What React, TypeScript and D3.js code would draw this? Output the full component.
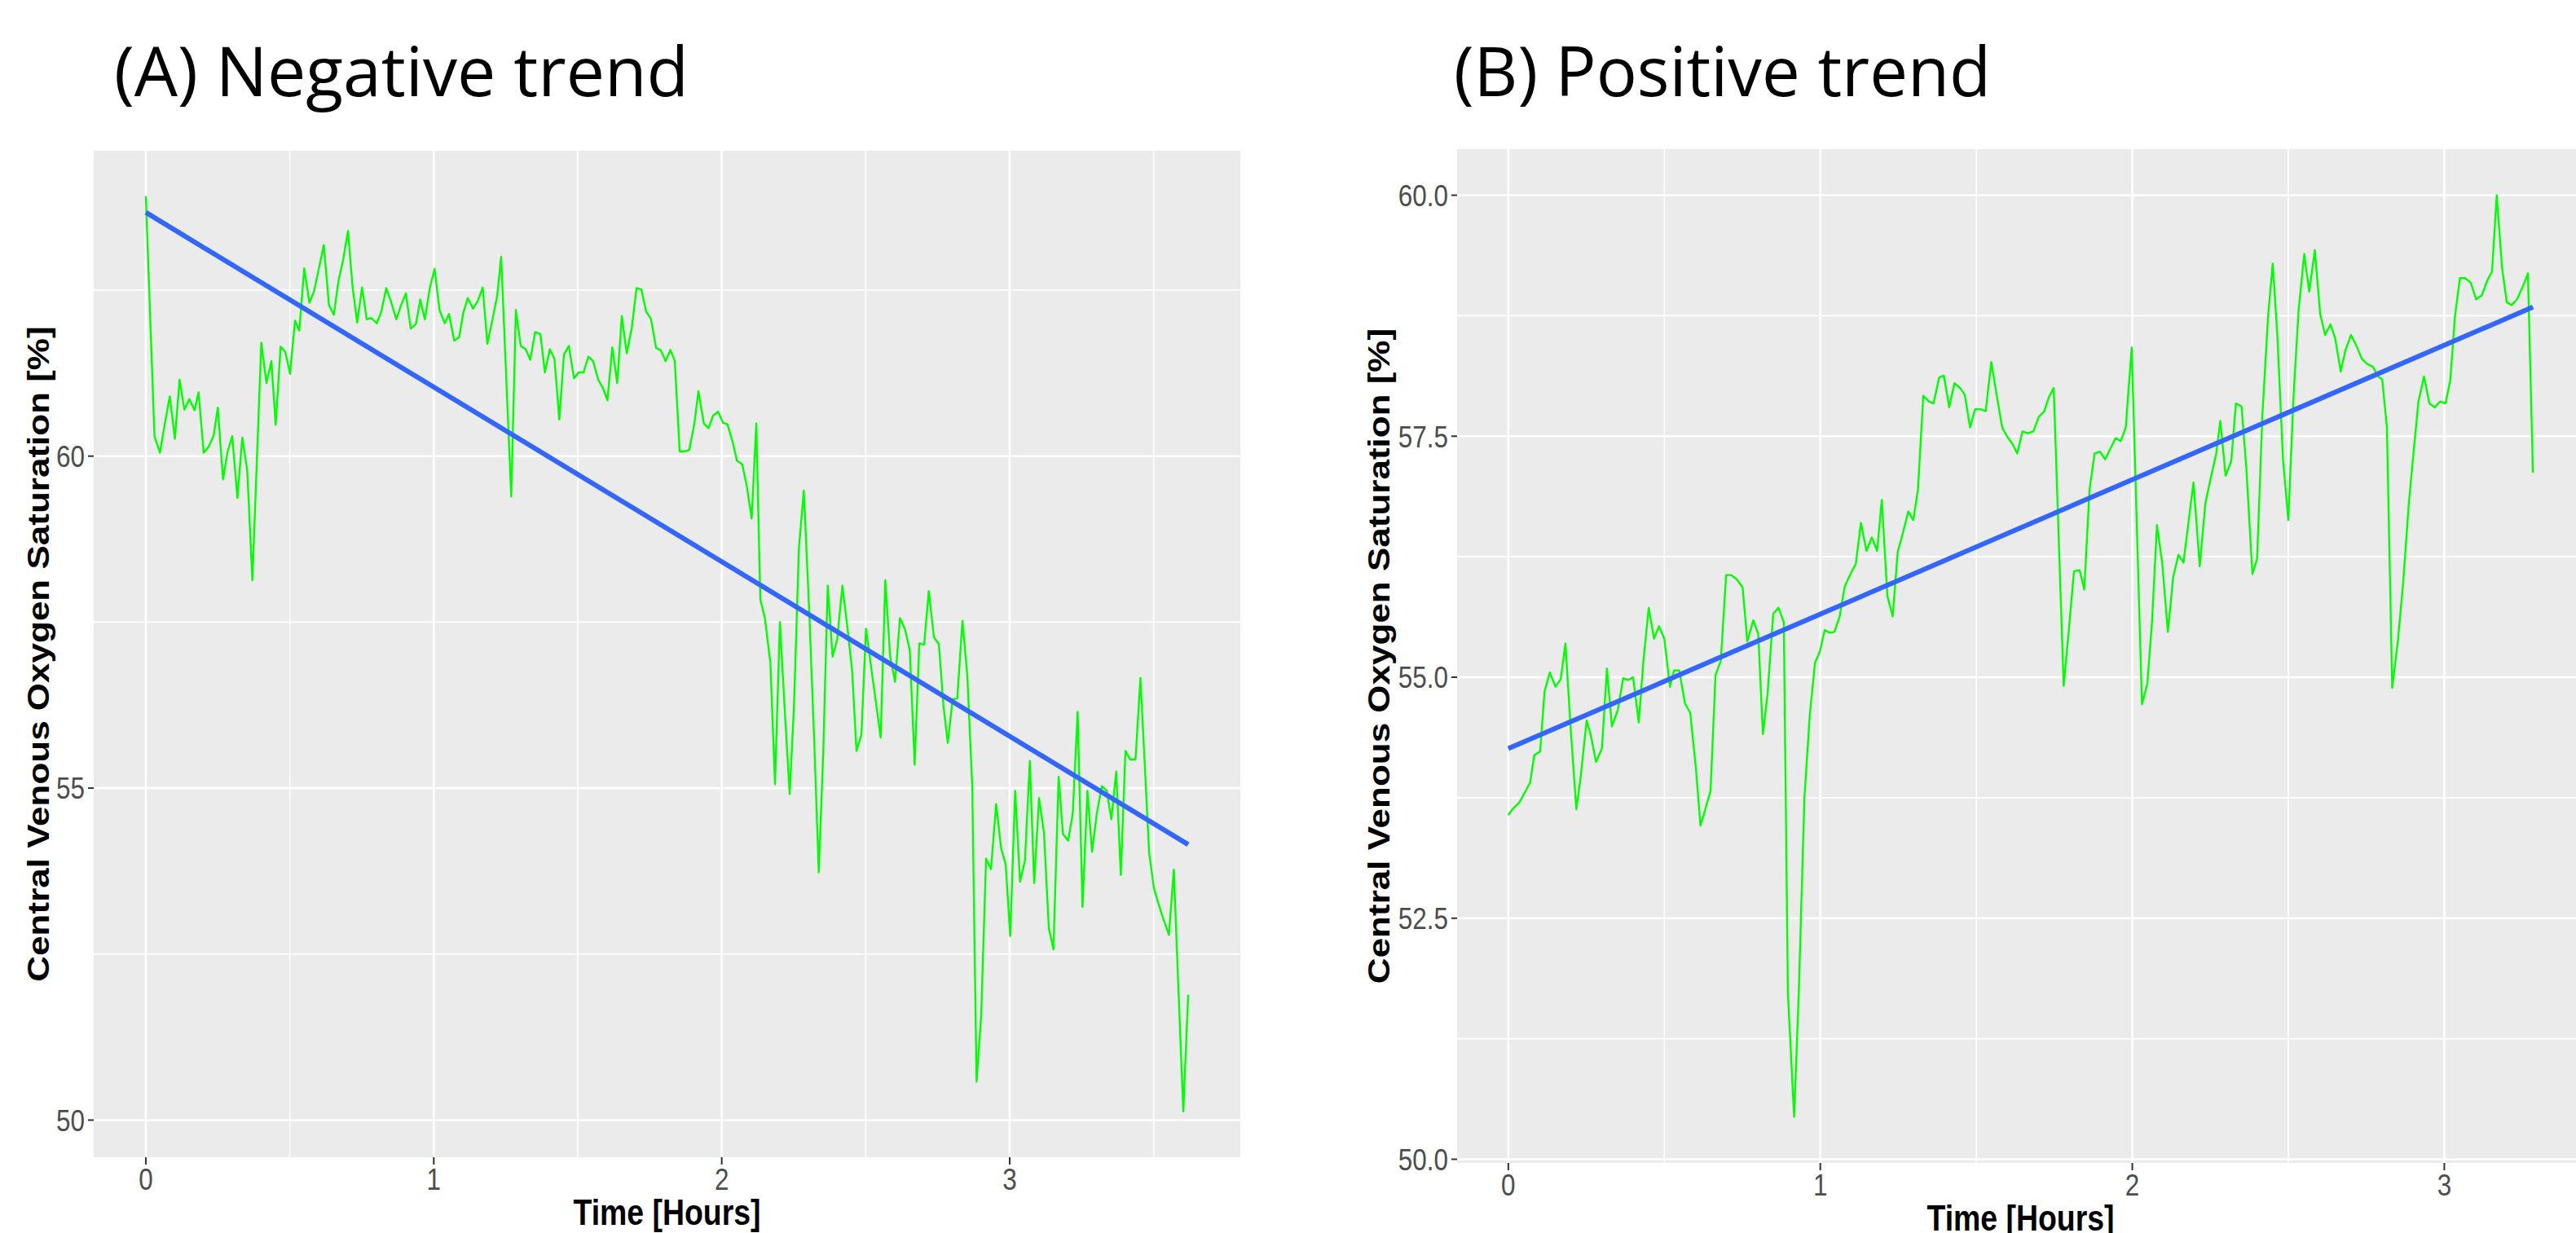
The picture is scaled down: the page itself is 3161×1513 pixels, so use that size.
import React from "react";
import * as d3 from "d3";

// (A) negative trend: time in hours, ScvO2 in %
const timeA = [
  0.000, 0.030, 0.049, 0.066, 0.083, 0.101, 0.117, 0.134, 0.151, 0.169, 0.183, 0.201, 0.218, 0.235, 0.250,
  0.268, 0.284, 0.300, 0.318, 0.335, 0.352, 0.370, 0.401, 0.419, 0.436, 0.451, 0.468, 0.484, 0.501, 0.518,
  0.533, 0.550, 0.568, 0.584, 0.601, 0.618, 0.636, 0.653, 0.669, 0.685, 0.702, 0.718, 0.734, 0.751, 0.767,
  0.783, 0.802, 0.818, 0.835, 0.852, 0.870, 0.886, 0.903, 0.920, 0.938, 0.953, 0.969, 0.987, 1.003, 1.020,
  1.038, 1.053, 1.071, 1.088, 1.102, 1.118, 1.136, 1.153, 1.170, 1.186, 1.204, 1.220, 1.234, 1.269, 1.285,
  1.302, 1.319, 1.335, 1.352, 1.370, 1.386, 1.403, 1.419, 1.436, 1.452, 1.469, 1.487, 1.503, 1.520, 1.537,
  1.553, 1.571, 1.587, 1.603, 1.620, 1.637, 1.653, 1.670, 1.688, 1.704, 1.721, 1.738, 1.754, 1.772, 1.789,
  1.805, 1.822, 1.837, 1.854, 1.870, 1.887, 1.905, 1.919, 1.938, 1.954, 1.970, 1.987, 2.005, 2.020, 2.038,
  2.053, 2.071, 2.087, 2.104, 2.120, 2.134, 2.150, 2.169, 2.185, 2.202, 2.218, 2.236, 2.251, 2.268, 2.285,
  2.304, 2.321, 2.337, 2.353, 2.368, 2.385, 2.401, 2.419, 2.437, 2.453, 2.468, 2.485, 2.501, 2.518, 2.535,
  2.552, 2.568, 2.585, 2.602, 2.619, 2.636, 2.653, 2.670, 2.686, 2.703, 2.719, 2.737, 2.754, 2.770, 2.785,
  2.802, 2.818, 2.836, 2.853, 2.870, 2.885, 2.901, 2.918, 2.935, 2.953, 2.970, 2.986, 3.002, 3.019, 3.036,
  3.053, 3.070, 3.085, 3.102, 3.119, 3.136, 3.152, 3.170, 3.185, 3.203, 3.219, 3.236, 3.253, 3.270, 3.286,
  3.303, 3.320, 3.337, 3.353, 3.370, 3.386, 3.402, 3.419, 3.437, 3.454, 3.470, 3.484, 3.501, 3.518, 3.535,
  3.553, 3.570, 3.585, 3.603, 3.620,
];
const svo2A = [
  63.91, 60.30, 60.05, 60.49, 60.90, 60.26, 61.15, 60.70, 60.86, 60.69, 60.96, 60.05, 60.14, 60.30, 60.73,
  59.65, 60.07, 60.30, 59.37, 60.28, 59.79, 58.13, 61.71, 61.10, 61.43, 60.47, 61.65, 61.57, 61.24, 62.04,
  61.89, 62.83, 62.31, 62.48, 62.83, 63.18, 62.27, 62.13, 62.64, 62.95, 63.39, 62.55, 62.01, 62.54, 62.06,
  62.08, 62.00, 62.18, 62.53, 62.32, 62.06, 62.27, 62.45, 61.92, 61.99, 62.36, 62.06, 62.55, 62.82, 62.20,
  62.00, 62.14, 61.74, 61.79, 62.15, 62.38, 62.22, 62.34, 62.54, 61.69, 62.06, 62.41, 63.00, 59.39, 62.20,
  61.66, 61.61, 61.45, 61.87, 61.84, 61.26, 61.61, 61.47, 60.55, 61.53, 61.66, 61.17, 61.26, 61.26, 61.50,
  61.43, 61.15, 61.03, 60.84, 61.64, 61.10, 62.11, 61.55, 61.94, 62.53, 62.51, 62.17, 62.07, 61.63, 61.59,
  61.43, 61.60, 61.43, 60.07, 60.07, 60.09, 60.49, 60.98, 60.49, 60.42, 60.61, 60.67, 60.50, 60.48, 60.21,
  59.93, 59.88, 59.55, 59.06, 60.49, 57.84, 57.56, 56.88, 55.06, 57.50, 56.24, 54.91, 56.24, 58.61, 59.48,
  57.65, 55.73, 53.73, 55.60, 58.05, 56.98, 57.24, 58.05, 57.40, 56.76, 55.56, 55.80, 57.40, 56.85, 56.31,
  55.76, 58.13, 56.98, 56.60, 57.56, 57.40, 57.08, 55.35, 57.18, 57.16, 57.97, 57.27, 57.17, 56.24, 55.68,
  56.34, 56.35, 57.52, 56.69, 55.03, 50.58, 51.57, 53.94, 53.78, 54.76, 54.10, 53.85, 52.77, 54.96, 53.59,
  53.91, 55.41, 53.57, 54.85, 54.33, 52.89, 52.57, 55.17, 54.31, 54.21, 54.61, 56.15, 53.21, 54.96, 54.04,
  54.63, 55.03, 54.96, 54.53, 55.25, 53.69, 55.56, 55.43, 55.43, 56.66, 55.28, 54.04, 53.49, 53.24, 53.01,
  52.79, 53.77, 52.09, 50.13, 51.89,
];

// (B) positive trend
const timeB = [
  0.000, 0.013, 0.035, 0.052, 0.070, 0.083, 0.102, 0.116, 0.133, 0.151, 0.168, 0.183, 0.200, 0.218, 0.232,
  0.251, 0.265, 0.281, 0.300, 0.316, 0.332, 0.351, 0.368, 0.384, 0.400, 0.418, 0.433, 0.450, 0.467, 0.483,
  0.500, 0.518, 0.531, 0.548, 0.566, 0.583, 0.601, 0.616, 0.633, 0.648, 0.664, 0.681, 0.698, 0.714, 0.734,
  0.751, 0.766, 0.785, 0.801, 0.816, 0.831, 0.849, 0.866, 0.883, 0.896, 0.916, 0.931, 0.949, 0.966, 0.983,
  0.999, 1.014, 1.031, 1.045, 1.062, 1.078, 1.095, 1.114, 1.130, 1.148, 1.165, 1.182, 1.197, 1.215, 1.232,
  1.248, 1.265, 1.282, 1.298, 1.313, 1.330, 1.348, 1.363, 1.381, 1.396, 1.413, 1.430, 1.448, 1.463, 1.480,
  1.496, 1.513, 1.530, 1.548, 1.565, 1.583, 1.600, 1.616, 1.631, 1.648, 1.665, 1.683, 1.700, 1.718, 1.733,
  1.748, 1.780, 1.796, 1.813, 1.831, 1.846, 1.863, 1.879, 1.896, 1.913, 1.931, 1.946, 1.963, 1.979, 1.998,
  2.031, 2.048, 2.063, 2.079, 2.096, 2.114, 2.131, 2.148, 2.164, 2.179, 2.196, 2.216, 2.234, 2.251, 2.269,
  2.282, 2.299, 2.317, 2.332, 2.350, 2.365, 2.385, 2.400, 2.417, 2.435, 2.450, 2.465, 2.483, 2.500, 2.517,
  2.533, 2.551, 2.567, 2.585, 2.602, 2.618, 2.635, 2.650, 2.668, 2.683, 2.701, 2.718, 2.736, 2.753, 2.771,
  2.788, 2.801, 2.816, 2.833, 2.851, 2.868, 2.886, 2.901, 2.917, 2.935, 2.952, 2.969, 2.987, 3.004, 3.019,
  3.034, 3.050, 3.067, 3.085, 3.102, 3.120, 3.137, 3.153, 3.168, 3.185, 3.200, 3.216, 3.233, 3.250, 3.268,
  3.284,
];
const svo2B = [
  53.57, 53.63, 53.70, 53.80, 53.91, 54.19, 54.23, 54.85, 55.05, 54.90, 54.98, 55.35, 54.46, 53.63, 53.97,
  54.55, 54.39, 54.12, 54.26, 55.09, 54.49, 54.66, 54.99, 54.97, 55.00, 54.53, 55.17, 55.72, 55.40, 55.53,
  55.40, 54.90, 55.07, 55.07, 54.73, 54.63, 54.06, 53.46, 53.65, 53.82, 55.02, 55.17, 56.06, 56.06, 56.01,
  55.93, 55.37, 55.59, 55.45, 54.41, 54.83, 55.66, 55.72, 55.57, 51.73, 50.44, 51.73, 53.75, 54.60, 55.15,
  55.27, 55.49, 55.46, 55.47, 55.63, 55.94, 56.06, 56.18, 56.60, 56.31, 56.45, 56.31, 56.84, 55.84, 55.63,
  56.30, 56.50, 56.72, 56.63, 56.95, 57.92, 57.86, 57.84, 58.11, 58.13, 57.80, 58.05, 58.00, 57.93, 57.59,
  57.78, 57.78, 57.76, 58.27, 57.93, 57.59, 57.49, 57.42, 57.32, 57.55, 57.53, 57.55, 57.70, 57.76, 57.91,
  58.00, 54.91, 55.47, 56.10, 56.11, 55.91, 56.95, 57.32, 57.34, 57.26, 57.38, 57.48, 57.45, 57.59, 58.42,
  54.72, 54.93, 55.57, 56.58, 56.18, 55.47, 56.04, 56.27, 56.19, 56.58, 57.02, 56.15, 56.80, 57.06, 57.32,
  57.66, 57.09, 57.24, 57.84, 57.81, 57.19, 56.07, 56.23, 57.73, 58.74, 59.29, 58.54, 57.26, 56.63, 57.93,
  58.81, 59.39, 59.00, 59.43, 58.77, 58.55, 58.66, 58.52, 58.17, 58.39, 58.55, 58.44, 58.30, 58.25, 58.22,
  58.12, 58.09, 57.59, 54.89, 55.37, 55.98, 56.79, 57.32, 57.86, 58.12, 57.84, 57.80, 57.86, 57.84, 58.08,
  58.74, 59.14, 59.14, 59.09, 58.92, 58.96, 59.11, 59.21, 60.00, 59.25, 58.89, 58.86, 58.92, 59.04, 59.19,
  57.12,
];

// linear fit as drawn (value at first and last time)
const trendA = [63.67, 54.15];
const trendB = [54.26, 58.84];

const xTicks = [0, 1, 2, 3];
const yTicksA = [50, 55, 60];
const yTicksB = [50, 52.5, 55, 57.5, 60];

const AXIS_FONT = "'Liberation Sans', Arial, sans-serif";
const SQUEEZE = 0.85; // the original graphic is squeezed horizontally

function expand(ext) {
  const pad = (ext[1] - ext[0]) * 0.05;
  return [ext[0] - pad, ext[1] + pad];
}

function minorBreaks(major, domain) {
  const step = major[1] - major[0];
  const out = [major[0] - step / 2, ...major.map(t => t + step / 2)];
  return out.filter(t => t > domain[0] && t < domain[1]);
}

function Panel({ title, titleX, titleWidth, times, values, trend, yTicks, yFormat, box, yTitleX }) {
  const [left, top, right, bottom] = box;
  const pts = times.map((t, i) => [t, values[i]]);

  const xDom = expand(d3.extent(times));
  const yDom = expand(d3.extent(values));
  const x = d3.scaleLinear().domain(xDom).range([left, right]);
  const y = d3.scaleLinear().domain(yDom).range([bottom, top]);

  const line = d3.line().x(d => x(d[0])).y(d => y(d[1]));
  const trendPts = [[times[0], trend[0]], [times[times.length - 1], trend[1]]];

  const xMinor = minorBreaks(xTicks, xDom);
  const yMinor = minorBreaks(yTicks, yDom);
  const cx = (left + right) / 2;
  const cy = (top + bottom) / 2;

  return (
    <g>
      <text x={titleX} y={118} fontFamily="'Open Sans', 'Noto Sans', sans-serif" fontSize={84}
        textLength={titleWidth} lengthAdjust="spacingAndGlyphs" fill="#000">{title}</text>

      <rect x={left} y={top} width={right - left} height={bottom - top} fill="#EBEBEB" />
      {yMinor.map(v => <line key={"ym" + v} x1={left} x2={right} y1={y(v)} y2={y(v)} stroke="#fff" strokeWidth={1.6} />)}
      {xMinor.map(v => <line key={"xm" + v} x1={x(v)} x2={x(v)} y1={top} y2={bottom} stroke="#fff" strokeWidth={1.6} />)}
      {yTicks.map(v => <line key={"yM" + v} x1={left} x2={right} y1={y(v)} y2={y(v)} stroke="#fff" strokeWidth={2.6} />)}
      {xTicks.map(v => <line key={"xM" + v} x1={x(v)} x2={x(v)} y1={top} y2={bottom} stroke="#fff" strokeWidth={2.6} />)}

      <path d={line(pts)} fill="none" stroke="#00FF00" strokeWidth={2.4} strokeLinejoin="round" />
      <path d={line(trendPts)} fill="none" stroke="#3366FF" strokeWidth={6} />

      {/* axes */}
      {yTicks.map(v => (
        <g key={"yt" + v}>
          <line x1={left - 7} x2={left} y1={y(v)} y2={y(v)} stroke="#333" strokeWidth={2} />
          <text transform={`translate(${left - 11},${y(v)}) scale(${SQUEEZE},1)`} dy="0.36em" textAnchor="end"
            fontFamily={AXIS_FONT} fontSize={37} fill="#4D4D4D">{yFormat(v)}</text>
        </g>
      ))}
      {xTicks.map(v => (
        <g key={"xt" + v}>
          <line x1={x(v)} x2={x(v)} y1={bottom} y2={bottom + 9} stroke="#333" strokeWidth={2} />
          <text transform={`translate(${x(v)},${bottom + 40}) scale(${SQUEEZE},1)`} textAnchor="middle"
            fontFamily={AXIS_FONT} fontSize={37} fill="#4D4D4D">{v}</text>
        </g>
      ))}
      <text transform={`translate(${cx},${bottom + 83}) scale(${SQUEEZE},1)`} textAnchor="middle"
        fontFamily={AXIS_FONT} fontWeight="bold" fontSize={44} fill="#000">Time [Hours]</text>
      <text transform={`translate(${yTitleX},${cy}) scale(${SQUEEZE},1) rotate(-90)`} textAnchor="middle"
        fontFamily={AXIS_FONT} fontWeight="bold" fontSize={44} fill="#000">Central Venous Oxygen Saturation [%]</text>
    </g>
  );
}

export default function App() {
  return (
    <svg width={3161} height={1513} style={{ position: "absolute", left: 0, top: 0, background: "#fff" }}>
      <rect width={3161} height={1513} fill="#fff" />
      <Panel title="(A) Negative trend" titleX={140} titleWidth={705}
        times={timeA} values={svo2A} trend={trendA}
        yTicks={yTicksA} yFormat={d3.format("d")}
        box={[115, 185, 1522, 1420]} yTitleX={60} />
      <Panel title="(B) Positive trend" titleX={1784} titleWidth={659}
        times={timeB} values={svo2B} trend={trendB}
        yTicks={yTicksB} yFormat={d3.format(".1f")}
        box={[1788, 183, 3171, 1427]} yTitleX={1705} />
    </svg>
  );
}
